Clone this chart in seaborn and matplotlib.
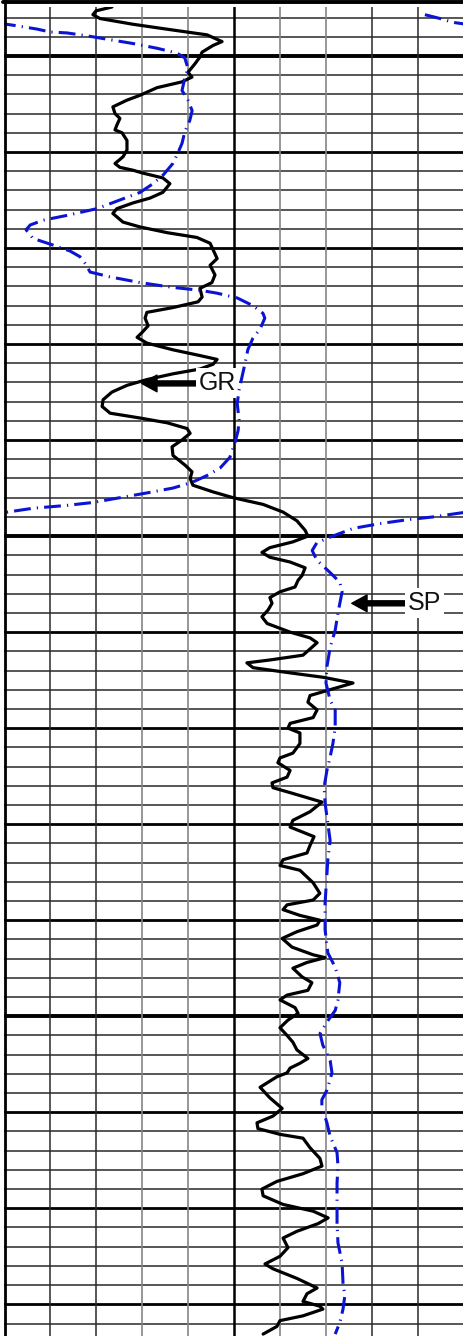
import numpy as np
import pandas as pd
import matplotlib
matplotlib.use("Agg")

import matplotlib.pyplot as plt
from matplotlib.lines import Line2D
import seaborn as sns

gr_depth = [
    4994.9, 4995.3, 4995.7, 4996.1, 4996.7, 4997.3, 4997.8, 4998.5, 4998.9, 4999.6,
    5000.1, 5000.8, 5001.7, 5002.2, 5002.7, 5003.3, 5004.1, 5004.6, 5005.3, 5006.0,
    5006.5, 5007.2, 5007.7, 5008.0, 5008.8, 5009.8, 5010.5, 5011.2, 5011.6, 5011.9,
    5012.2, 5012.7, 5013.3, 5014.2, 5014.8, 5015.3, 5015.9, 5016.4, 5017.3, 5017.8,
    5018.4, 5018.9, 5019.5, 5020.2, 5021.1, 5021.8, 5022.8, 5023.6, 5024.2, 5025.1,
    5025.6, 5026.2, 5026.7, 5027.3, 5028.1, 5028.8, 5029.3, 5029.9, 5030.6, 5031.2,
    5031.6, 5032.1, 5032.6, 5033.1, 5033.7, 5034.3, 5035.0, 5035.8, 5036.5, 5037.2,
    5037.7, 5038.2, 5038.8, 5039.3, 5040.0, 5040.7, 5041.6, 5042.6, 5043.3, 5044.0,
    5044.7, 5045.4, 5046.0, 5046.7, 5047.5, 5048.4, 5049.4, 5050.0, 5050.6, 5051.2,
    5051.7, 5052.2, 5052.7, 5053.3, 5054.1, 5054.6, 5055.3, 5055.8, 5056.4, 5057.0,
    5057.7, 5058.4, 5059.1, 5060.0, 5060.6, 5061.1, 5062.4, 5062.9, 5063.2, 5063.7,
    5064.2, 5064.7, 5065.3, 5066.0, 5066.6, 5067.3, 5068.1, 5068.9, 5069.5, 5070.0,
    5070.5, 5071.6, 5072.6, 5073.1, 5073.6, 5074.4, 5075.1, 5075.7, 5076.2, 5076.8,
    5077.7, 5078.7, 5079.6, 5080.3, 5081.3, 5082.2, 5083.0, 5083.7, 5084.3, 5084.8,
    5086.1, 5087.2, 5087.9, 5088.4, 5088.9, 5089.5, 5090.0, 5090.5, 5091.2, 5091.9,
    5092.8, 5093.6, 5093.9, 5094.4, 5095.0, 5095.9, 5096.5, 5097.3, 5097.8, 5098.3,
    5099.1, 5099.7, 5100.4, 5101.2, 5102.0, 5102.7, 5103.5, 5104.4, 5104.9, 5105.4,
    5105.9, 5106.3, 5107.4, 5108.5, 5109.6, 5110.4, 5111.1, 5111.7, 5112.3, 5112.7,
    5113.7, 5114.8, 5115.6, 5116.4, 5117.2, 5118.0, 5118.7, 5119.6, 5120.3, 5121.0,
    5121.6, 5122.4, 5123.1, 5124.1, 5125.0, 5125.8, 5126.3, 5127.3, 5128.3, 5128.9,
    5129.7, 5130.2, 5130.5, 5131.2, 5131.7, 5132.3, 5133.1,
]

gr_api = [
    35.2, 30.0, 29.0, 31.3, 42.1, 55.1, 66.2, 71.1, 68.2, 64.6,
    63.9, 62.3, 60.0, 61.3, 58.0, 49.9, 44.3, 40.1, 35.5, 36.2,
    37.8, 36.8, 36.2, 38.5, 40.1, 40.1, 38.8, 36.2, 37.8, 42.1,
    45.3, 51.8, 54.1, 51.8, 47.6, 42.1, 36.8, 35.5, 38.8, 44.3,
    53.2, 62.9, 67.2, 68.2, 69.5, 67.2, 68.8, 67.8, 63.9, 64.6,
    63.3, 55.1, 46.6, 46.0, 47.0, 45.0, 43.4, 46.6, 55.1, 63.9,
    69.5, 68.2, 63.9, 55.1, 46.6, 40.1, 35.2, 32.3, 32.0, 34.6,
    44.3, 53.2, 59.7, 60.7, 58.0, 54.8, 55.1, 59.0, 61.3, 60.7,
    61.6, 68.2, 74.7, 84.5, 91.0, 95.5, 98.2, 99.1, 94.2, 86.7,
    84.1, 86.7, 93.3, 98.2, 97.2, 95.9, 94.9, 90.0, 86.7, 87.4,
    86.1, 84.1, 85.8, 93.3, 99.8, 102.1, 97.5, 86.7, 79.2, 81.2,
    92.3, 104.0, 113.8, 106.3, 99.8, 99.1, 102.1, 100.8, 93.3, 92.6,
    96.5, 96.5, 94.2, 90.0, 89.3, 93.3, 92.3, 87.4, 87.7, 94.2,
    103.7, 99.8, 94.2, 93.3, 101.1, 99.8, 98.8, 91.0, 90.0, 96.5,
    100.8, 103.0, 100.8, 92.3, 91.0, 96.5, 103.0, 102.1, 95.5, 90.7,
    93.9, 100.8, 104.7, 98.8, 94.2, 97.2, 100.4, 99.1, 92.3, 90.0,
    94.9, 95.9, 92.6, 90.0, 92.3, 94.2, 95.5, 99.1, 96.5, 93.3,
    92.3, 89.0, 83.5, 86.7, 90.7, 87.7, 82.5, 82.8, 90.0, 97.5,
    99.8, 103.0, 103.7, 97.5, 89.0, 84.1, 84.5, 91.0, 100.8, 105.7,
    102.4, 95.5, 91.0, 92.6, 90.0, 85.1, 87.7, 95.5, 102.1, 98.8,
    97.5, 103.0, 104.0, 97.5, 90.0, 89.0, 84.5,
]

# SP curve: depth (ft) and SP (mV); values above +20 mV wrap onto the left side
sp_depth = [
    4995.7, 4996.1, 4996.5, 4996.8, 4997.0, 4997.2, 4997.5, 4997.6, 4997.9, 4998.3,
    4998.7, 4999.2, 4999.7, 5000.2, 5001.3, 5002.3, 5003.6, 5004.6, 5005.7, 5006.7,
    5007.9, 5009.1, 5010.1, 5011.2, 5012.4, 5013.3, 5014.2, 5015.0, 5015.9, 5016.6,
    5017.1, 5017.6, 5018.1, 5019.0, 5019.7, 5020.3, 5020.9, 5021.7, 5022.5, 5023.0,
    5023.6, 5024.1, 5024.4, 5024.7, 5025.2, 5026.0, 5026.8, 5027.3, 5028.4, 5029.4,
    5030.6, 5032.0, 5033.5, 5034.8, 5036.2, 5037.9, 5039.0, 5040.3, 5041.8, 5042.9,
    5043.7, 5044.4, 5045.0, 5045.5, 5046.0, 5046.5, 5046.8, 5047.1, 5047.5, 5047.6,
    5048.0, 5048.3, 5048.7, 5049.2, 5050.1, 5050.7, 5051.5, 5052.5, 5053.8, 5054.8,
    5055.8, 5057.0, 5058.0, 5059.8, 5061.6, 5063.6, 5065.3, 5067.1, 5068.1, 5069.9,
    5071.6, 5073.0, 5074.4, 5076.1, 5077.8, 5079.9, 5081.7, 5083.7, 5086.6, 5088.2,
    5091.0, 5093.4, 5094.9, 5096.5, 5098.3, 5099.4, 5100.6, 5101.8, 5103.0, 5104.6,
    5105.9, 5107.7, 5108.7, 5109.4, 5111.1, 5112.5, 5114.2, 5115.6, 5117.4, 5119.5,
    5121.5, 5123.6, 5125.7, 5127.8, 5129.1, 5130.5, 5131.9, 5133.1,
]

sp_mv = [
    11.5, 14.8, 17.6, 22.0, 24.6, 27.2, 30.0, 33.7, 38.0, 43.0,
    48.0, 53.3, 57.6, 59.3, 60.0, 59.3, 58.7, 60.0, 60.9, 60.4,
    59.3, 58.7, 57.8, 56.7, 54.6, 52.4, 49.6, 45.2, 40.2, 33.7,
    28.5, 25.7, 24.8, 26.3, 30.7, 34.3, 36.5, 37.8, 38.7, 43.0,
    49.6, 56.7, 62.6, 66.3, 70.7, 74.1, 76.3, 76.7, 75.7, 74.1,
    73.0, 72.4, 71.7, 71.1, 70.7, 71.1, 70.9, 70.2, 69.1, 67.0,
    64.1, 60.9, 56.7, 51.1, 45.2, 39.3, 33.7, 26.3, 20.7, 19.1,
    13.3, 7.6, 1.7, -4.1, -9.1, -12.0, -13.0, -12.0, -9.1, -7.0,
    -6.5, -7.0, -7.4, -8.0, -9.1, -9.8, -10.0, -9.1, -8.0, -8.0,
    -8.5, -9.1, -9.8, -10.4, -10.2, -9.6, -9.1, -9.6, -10.0, -10.2,
    -10.2, -9.6, -8.0, -7.0, -7.4, -8.0, -9.8, -11.3, -10.7, -9.1,
    -8.7, -9.8, -10.9, -10.9, -9.8, -9.1, -7.6, -7.4, -7.6, -7.6,
    -7.6, -7.4, -6.5, -6.3, -5.9, -6.3, -7.0, -8.0,
]

# Track scales
gr_min, gr_max = 0, 150
sp_min, sp_max = -80, 20
top_depth, bottom_depth = 4994.9, 5133.3

gr = pd.DataFrame({"depth": gr_depth, "gr": gr_api})
sp = pd.DataFrame({"depth": sp_depth, "sp": sp_mv})

sns.set_style("white")
plt.rcParams["font.family"] = ["Liberation Sans", "DejaVu Sans"]

fig = plt.figure(figsize=(4.64, 13.36), dpi=100)
ax = fig.add_axes([4 / 464, 0, 460 / 464, 1 - 7 / 1336])

# Depth grid: thin every 2 ft, heavier every 10 ft, heaviest every 50 ft
for d in range(4996, 5134, 2):
    if d % 50 == 0:
        ax.axhline(d, color="black", lw=2.8, zorder=0)
    elif d % 10 == 0:
        ax.axhline(d, color="black", lw=2.0, zorder=0)
    else:
        ax.axhline(d, color="#3a3a3a", lw=1.2, zorder=0)

# Track divisions
for i, g in enumerate(range(15, 150, 15)):
    if g == 75:
        ax.axvline(g, color="black", lw=1.8, zorder=0)
    elif i in (0, 1, 7, 8):
        ax.axvline(g, color="#2a2a2a", lw=1.1, zorder=0)
    else:
        ax.axvline(g, color="#858585", lw=1.2, zorder=0)

sns.lineplot(
    data=gr,
    x="gr",
    y="depth",
    orient="y",
    sort=False,
    estimator=None,
    color="black",
    linewidth=2.3,
    solid_joinstyle="round",
    solid_capstyle="round",
    ax=ax
)

ax.set_xlim(gr_min, gr_max)
ax.set_ylim(bottom_depth, top_depth)
ax.set_xlabel("")
ax.set_ylabel("")
ax.set_xticks([])
ax.set_yticks([])
for s in ax.spines.values():
    s.set_visible(False)

label_box = dict(boxstyle="square,pad=0.12", fc="white", ec="none")
arrow = dict(
    facecolor="black",
    edgecolor="black",
    width=3.6,
    headwidth=12,
    headlength=11,
    shrink=0.0
)

ax.annotate(
    "GR",
    xy=(44.9, 5034.1),
    xytext=(63.6, 5034.1),
    ha="left",
    va="center",
    fontsize=18,
    color="#111111",
    bbox=label_box,
    arrowprops=arrow,
    zorder=5
)

# SP on its own scale, drawn twice so the backup part wraps around
ax2 = ax.twiny()
span = sp_max - sp_min
for shift in (0, span):
    sns.lineplot(
        x=sp["sp"] - shift,
        y=sp["depth"],
        orient="y",
        sort=False,
        estimator=None,
        color="#0c14d4",
        linewidth=2.2,
        linestyle=(0, (5.5, 2.0, 0.4, 2.0)),
        dash_joinstyle="round",
        ax=ax2
    )

ax2.set_xlim(sp_min, sp_max)
ax2.set_ylim(bottom_depth, top_depth)
ax2.set_xlabel("")
ax2.set_ylabel("")
ax2.set_xticks([])
ax2.set_yticks([])
for s in ax2.spines.values():
    s.set_visible(False)

ax2.annotate(
    "SP",
    xy=(-4.4, 5057.0),
    xytext=(7.8, 5057.0),
    ha="left",
    va="center",
    fontsize=18,
    color="#111111",
    bbox=label_box,
    arrowprops=arrow,
    zorder=5
)

# Header frame line and left border
fig.add_artist(Line2D([3 / 464, 1], [1 - 2 / 1336] * 2, transform=fig.transFigure, color="black", lw=2.8))
fig.add_artist(Line2D([4.7 / 464] * 2, [0, 1], transform=fig.transFigure, color="black", lw=2.0))

fig.savefig("out.png", dpi=100)
